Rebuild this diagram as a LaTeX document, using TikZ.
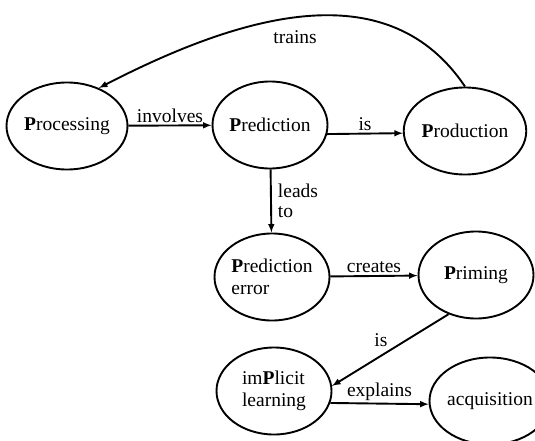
\documentclass[tikz,border=0pt]{standalone}
\usepackage{fontspec}
\setmainfont{Liberation Serif}
\newfontfamily\mapfont{Liberation Serif}
\usetikzlibrary{arrows,shapes.geometric}

\begin{document}
\begin{tikzpicture}[x=1pt,y=-1pt,
	concept/.style={draw,ellipse,line width=1.9pt,minimum width=115pt,minimum height=87pt,inner sep=0pt,align=left,font=\mapfont\fontsize{19.5}{22}\selectfont},
	link/.style={->,>=latex,line width=1.9pt},
	rel/.style={font=\mapfont\fontsize{19.5}{20}\selectfont,inner sep=2pt,align=left}]
	\useasboundingbox (0,0) rectangle (535,441);
	\node[concept] (proc) at (67,126) {\textbf{P}rocessing};
	\node[concept] (pred) at (270,125) {\textbf{P}rediction};
	\node[concept] (prod) at (465,131) {\textbf{P}roduction};
	\node[concept] (perr) at (272,277) {\textbf{P}rediction\\error};
	\node[concept] (prim) at (476,275) {\textbf{P}riming};
	\node[concept] (impl) at (274,391) {im\textbf{P}licit\\learning};
	\node[concept] (acqu) at (490,401) {acquisition};
	\path[link]
	(proc) edge node[rel,above]{involves} (pred)
	(pred.351) edge node[rel,above]{is} (prod.182)
	(pred) edge node[rel,right,xshift=4pt]{leads\\to} (perr)
	(perr) edge node[rel,above]{creates} (prim)
	(prim.235) edge node[rel,above left]{is} (impl.5)
	(impl.348) edge node[rel,above]{explains} (acqu.183);
	\draw[link] (prod.north) .. controls (390,-25) and (250,10) .. node[rel,below,pos=0.54,yshift=-10pt]{trains} (proc.50);
\end{tikzpicture}
\end{document}
